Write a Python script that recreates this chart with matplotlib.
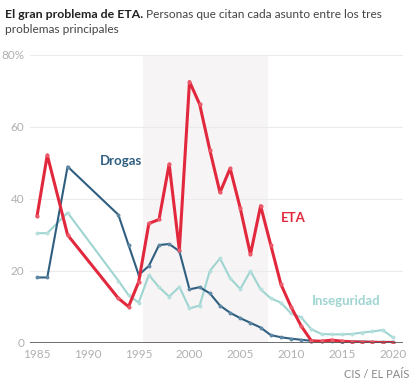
import matplotlib.pyplot as plt

plt.rcParams['font.family'] = ['Lato', 'DejaVu Sans']

years = [1985, 1986, 1988, 1993, 1994, 1995, 1996, 1997, 1998, 1999, 2000,
         2001, 2002, 2003, 2004, 2005, 2006, 2007, 2008, 2009, 2010, 2011,
         2012, 2013, 2014, 2015, 2016, 2017, 2018, 2019, 2020]

eta = [35.4, 52.2, 30.0, 12.4, 10.1, 17.0, 33.2, 34.3, 49.7, 25.8, 72.6,
       66.3, 53.6, 41.8, 48.5, 37.4, 24.6, 38.1, 27.2, 16.3, 10.0, 4.7,
       0.6, 0.5, 0.8, 0.5, 0.3, 0.2, 0.2, 0.1, 0.1]

drogas = [18.2, 18.2, 49.0, 35.6, 27.2, 18.9, 21.4, 27.2, 27.5, 25.5, 14.9,
          15.5, 13.8, 10.4, 8.4, 6.9, 5.6, 4.3, 2.2, 1.6, 1.2, 0.9,
          0.6, 0.5, 0.5, 0.4, 0.4, 0.4, 0.3, 0.3, 0.3]

inseguridad = [30.5, 30.5, 36.2, 17.3, 13.3, 11.2, 18.9, 15.5, 12.9, 15.6, 9.6,
               10.4, 20.0, 23.5, 18.0, 15.0, 20.0, 14.9, 12.4, 11.2, 8.2, 7.1,
               3.8, 2.5, 2.4, 2.4, 2.5, 2.9, 3.2, 3.6, 1.6]

x_ticks = [1985, 1990, 1995, 2000, 2005, 2010, 2015, 2020]
y_ticks = [0, 20, 40, 60, 80]
y_labels = ['0', '20', '40', '60', '80%']

c_eta = '#e2283d'
c_drogas = '#2f5f80'
c_ins = '#9fd5d1'
c_tick = '#b0b0b0'

fig = plt.figure(figsize=(4.14, 3.87), dpi=100)
ax = fig.add_axes([0.0725, 0.1137, 0.9005, 0.7443])

ax.axvspan(1995.4, 2007.7, color='#f7f4f5', zorder=0, lw=0)
for v in y_ticks[1:]:
    ax.axhline(v, color='#ebebeb', lw=0.8, zorder=1)
ax.axhline(0, color='#555555', lw=1.2, zorder=5)

ax.plot(years, inseguridad, color=c_ins, lw=1.5, marker='o', ms=2.8,
        mfc='#b5dfdc', mec='none', zorder=3)
ax.plot(years, drogas, color=c_drogas, lw=1.5, marker='o', ms=2.8,
        mfc='#5d87a3', mec='none', zorder=3)
ax.plot(years, eta, color=c_eta, lw=2.2, marker='o', ms=3.0,
        mfc='#ea5a6a', mec='none', zorder=4)

ax.text(1991.2, 49.5, 'Drogas', color=c_drogas, fontsize=9.5, fontweight='bold')
ax.text(2009.0, 33.5, 'ETA', color=c_eta, fontsize=9.5, fontweight='bold')
ax.text(2012.0, 10.5, 'Inseguridad', color=c_ins, fontsize=9.5, fontweight='bold')

ax.set_xlim(1984.3, 2021.0)
ax.set_ylim(0, 80)
ax.set_xticks(x_ticks)
ax.set_yticks(y_ticks)
ax.set_yticklabels(y_labels)
ax.tick_params(length=0, colors=c_tick, labelsize=8.5)
ax.tick_params(axis='x', pad=4)
ax.tick_params(axis='y', pad=4)
for s in ax.spines.values():
    s.set_visible(False)

# title: bold lead followed by regular text on the same line
t1 = fig.text(0.012, 0.962, 'El gran problema de ETA.', fontsize=8.9,
              fontweight='bold', color='#222222', va='center')
ax.annotate(' Personas que citan cada asunto entre los tres', xy=(1, 0.5),
            xycoords=t1, va='center', ha='left', fontsize=8.6, color='#444444',
            annotation_clip=False)
fig.text(0.012, 0.925, 'problemas principales', fontsize=8.6, color='#444444',
         va='center')
fig.text(0.988, 0.022, 'CIS / EL PAÍS', fontsize=8, color='#888888', ha='right')

fig.savefig('out.png', dpi=100)
